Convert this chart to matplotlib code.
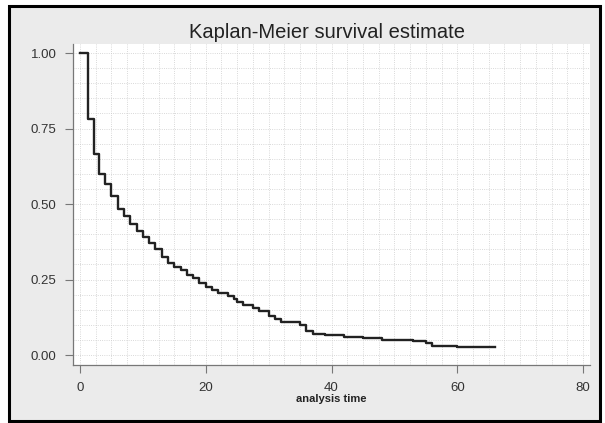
import matplotlib
matplotlib.use('Agg')
import matplotlib.pyplot as plt
from matplotlib.patches import Rectangle
from matplotlib.ticker import MultipleLocator

# step times and survival estimate after each step
times = [0, 1.3, 2.3, 3, 4, 5, 6, 7, 8, 9, 10, 11, 12, 13, 14, 15, 16, 17, 18,
         19, 20, 21, 22, 23.5, 24.5, 25, 26, 27.5, 28.5, 30, 31, 32, 35, 36,
         37, 39, 42, 45, 48, 53, 55, 56, 60, 66]
surv = [1.0, 0.78, 0.665, 0.60, 0.565, 0.525, 0.485, 0.46, 0.435, 0.41, 0.39,
        0.37, 0.35, 0.325, 0.305, 0.29, 0.28, 0.265, 0.255, 0.24, 0.225, 0.215,
        0.205, 0.195, 0.185, 0.175, 0.165, 0.155, 0.145, 0.13, 0.12, 0.11,
        0.10, 0.08, 0.07, 0.065, 0.06, 0.055, 0.05, 0.045, 0.04, 0.03, 0.025,
        0.025]
xticks = [0, 20, 40, 60, 80]
yticks = [0.0, 0.25, 0.5, 0.75, 1.0]
ylabels = ['0.00', '0.25', '0.50', '0.75', '1.00']

plt.rcParams['font.family'] = ['Liberation Sans', 'DejaVu Sans']

fig = plt.figure(figsize=(6.05, 4.23), dpi=100)
fig.patch.set_facecolor('white')
# grey panel with black frame
frame = Rectangle((9 / 605, 1 - 421 / 423), 591 / 605, 415 / 423,
                  transform=fig.transFigure, facecolor='#ebebeb',
                  edgecolor='black', linewidth=2.2, zorder=-1)
fig.patches.append(frame)

ax = fig.add_axes([73 / 605, 1 - 365 / 423, 517 / 605, 321 / 423])
ax.set_zorder(1)
ax.set_facecolor('white')
ax.step(times, surv, where='post', color='#222222', lw=1.7, zorder=3)

ax.set_xlim(-1.1, 81.1)
ax.set_ylim(-0.033, 1.03)
ax.set_xticks(xticks)
ax.set_yticks(yticks)
ax.set_yticklabels(ylabels)
ax.xaxis.set_minor_locator(MultipleLocator(2.5))
ax.yaxis.set_minor_locator(MultipleLocator(0.05))
ax.tick_params(which='minor', length=0)
ax.tick_params(which='major', length=6, width=0.8, color='#777777',
               labelsize=9.5, labelcolor='#333333', pad=6)
ax.grid(which='both', color='#cccccc', linestyle=':', linewidth=0.6, zorder=0)

for s in ['top', 'right']:
    ax.spines[s].set_visible(False)
for s in ['left', 'bottom']:
    ax.spines[s].set_color('#777777')
    ax.spines[s].set_linewidth(0.9)

fig.text(327 / 605, 1 - 32 / 423, 'Kaplan-Meier survival estimate', ha='center',
         va='center', fontsize=14.5, color='#222222')
ax.set_xlabel('analysis time', fontsize=8, color='#222222', labelpad=0,
              fontweight='bold')

fig.savefig('out.png', dpi=100, facecolor=fig.get_facecolor())
